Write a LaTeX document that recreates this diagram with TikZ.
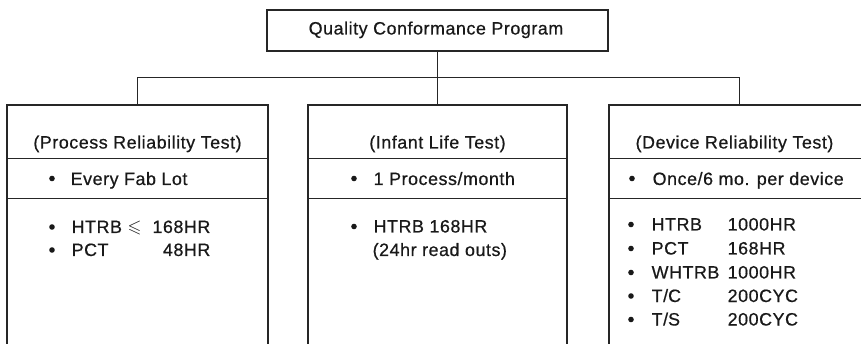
\documentclass[tikz,border=0pt]{standalone}
\usepackage{amssymb}
\usepackage{fontspec}
\setmainfont{Liberation Sans}[LetterSpace=3.0, FakeBold=0.6]
\begin{document}
\begin{tikzpicture}[x=1pt,y=-1pt,
  line width=1.3pt,
  every node/.style={font=\fontsize{17.9}{21}\selectfont, inner sep=0pt, text=black!90},
  boxframe/.style={draw=black!85, rectangle, minimum height=256pt, anchor=north},
  topframe/.style={draw=black!85, rectangle, minimum width=341pt, minimum height=41pt},
  wire/.style={draw=black!85, line width=1.2pt},
  divider/.style={draw=black!85, line width=1.2pt},
  lbl/.style={anchor=base west},
  val/.style={anchor=base west},
  valr/.style={anchor=base east},
  ttl/.style={anchor=base},
  dot/.style={circle, fill=black!90, minimum size=5.6pt}
]
\useasboundingbox (0,0) rectangle (861,344);

% root of the chart
\node[topframe] (top) at (437.5,30.5) {};
\node[anchor=base] (toptext) at (436,34.5) {Quality Conformance Program};

% the three test branches
\node[boxframe, minimum width=261pt] (lbox) at (137.5,104.5) {};
\node[boxframe, minimum width=259pt] (mbox) at (437.5,104.5) {};
\node[boxframe, minimum width=261pt] (rbox) at (739.5,104.5) {};

% tree connectors
\coordinate (jn) at (437.5,77.3);
\draw[wire] (top.south) -- (mbox.north);
\draw[wire] (lbox.north) |- (jn) -| (rbox.north);

% section dividers inside each branch
\foreach \b in {lbox,mbox,rbox}{
  \draw[divider] (\b.west |- 0,158.5) -- (\b.east |- 0,158.5);
  \draw[divider] (\b.west |- 0,198.5) -- (\b.east |- 0,198.5);
}

% Process Reliability Test
\node[ttl] (lt) at (137.5,148.5) {(Process Reliability Test)};
\node[dot] (lb1) at (52,178.5) {};
\node[lbl] (lf) at (70,185) {Every Fab Lot};
\node[dot] (lb2) at (52,227) {};
\node[lbl] (lh) at (71,233) {HTRB};
\node[val] (lle) at (127,233) {$\leqslant$};
\node[valr] (lhv) at (211,233) {168HR};
\node[dot] (lb3) at (52,250) {};
\node[lbl] (lp) at (71,256) {PCT};
\node[valr] (lpv) at (211,256) {48HR};

% Infant Life Test
\node[ttl] (mt) at (437.5,148.5) {(Infant Life Test)};
\node[dot] (mb1) at (354,178.5) {};
\node[lbl] (mp) at (373,185) {1 Process/month};
\node[dot] (mb2) at (354,226.5) {};
\node[lbl] (mh) at (373,232.5) {HTRB 168HR};
\node[lbl] (mr) at (372,256) {(24hr read outs)};

% Device Reliability Test
\node[ttl] (rt) at (734.5,148.5) {(Device Reliability Test)};
\node[dot] (rb1) at (632,178.5) {};
\node[lbl] (ro) at (652,185) {Once/6 mo. per device};
\foreach \y/\n/\t/\v in {230.5/1/HTRB/1000HR, 254.5/2/PCT/168HR, 278.5/3/WHTRB/1000HR, 302/4/T\slash C/200CYC, 325.5/5/T\slash S/200CYC}{
  \node[dot] (rd\n) at (631,\y-6) {};
  \node[lbl] (rl\n) at (651,\y) {\t};
  \node[val] (rv\n) at (727,\y) {\v};
}
\end{tikzpicture}
\end{document}
